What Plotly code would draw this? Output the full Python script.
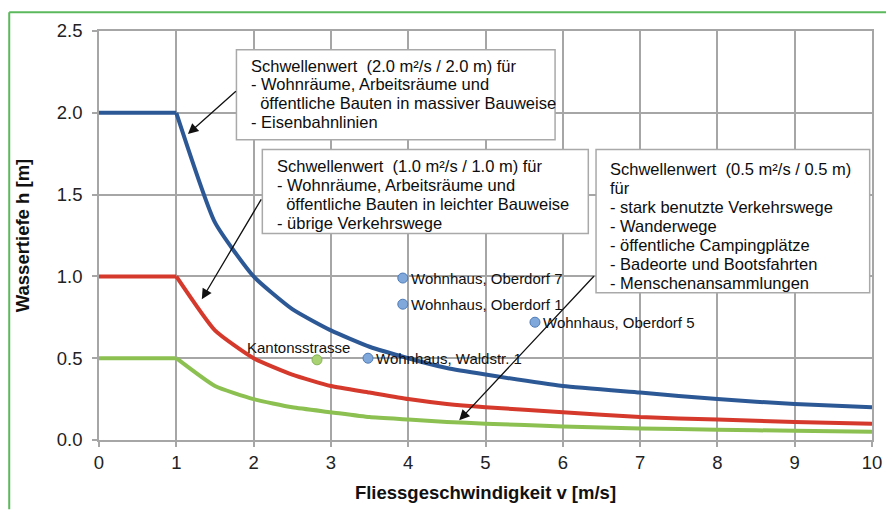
import plotly.graph_objects as go

# ---- data ----
v = [0, 1, 1.5, 2, 2.5, 3, 3.5, 4, 4.5, 5, 6, 7, 8, 9, 10]
h_blue = [2.0, 2.0, 1.33, 1.0, 0.8, 0.67, 0.57, 0.5, 0.44, 0.4, 0.33, 0.29, 0.25, 0.22, 0.2]
h_red = [1.0, 1.0, 0.67, 0.5, 0.4, 0.33, 0.29, 0.25, 0.22, 0.2, 0.17, 0.14, 0.125, 0.11, 0.1]
h_green = [0.5, 0.5, 0.33, 0.25, 0.2, 0.17, 0.14, 0.125, 0.11, 0.1, 0.083, 0.071, 0.063, 0.056, 0.05]

house_names = ["Wohnhaus, Oberdorf 7", "Wohnhaus, Oberdorf 1", "Wohnhaus, Oberdorf 5", "Wohnhaus, Waldstr. 1"]
house_v = [3.93, 3.93, 5.64, 3.48]
house_h = [0.99, 0.83, 0.72, 0.50]

road_names = ["Kantonsstrasse"]
road_v = [2.82]
road_h = [0.49]

box1_lines = ["Schwellenwert&nbsp; (2.0 m²/s / 2.0 m) für",
              "- Wohnräume, Arbeitsräume und",
              "&nbsp;&nbsp;öffentliche Bauten in massiver Bauweise",
              "- Eisenbahnlinien"]
box2_lines = ["Schwellenwert&nbsp; (1.0 m²/s / 1.0 m) für",
              "- Wohnräume, Arbeitsräume und",
              "&nbsp;&nbsp;öffentliche Bauten in leichter Bauweise",
              "- übrige Verkehrswege"]
box3_lines = ["Schwellenwert&nbsp; (0.5 m²/s / 0.5 m)",
              "für",
              "- stark benutzte Verkehrswege",
              "- Wanderwege",
              "- öffentliche Campingplätze",
              "- Badeorte und Bootsfahrten",
              "- Menschenansammlungen"]

x_ticks = [0, 1, 2, 3, 4, 5, 6, 7, 8, 9, 10]
y_ticks = [0.0, 0.5, 1.0, 1.5, 2.0, 2.5]

FONT = "Liberation Sans, Arial, sans-serif"
BLUE = "#2d5896"
RED = "#d5392b"
GREEN = "#8cc152"
GRID = "#a6a6a6"

fig = go.Figure()
for hv, col in [(h_green, GREEN), (h_red, RED), (h_blue, BLUE)]:
    # flat part up to v = 1, then smoothed decay
    fig.add_trace(go.Scatter(x=v[:2], y=hv[:2], mode="lines", line=dict(color=col, width=4), hoverinfo="skip"))
    fig.add_trace(go.Scatter(x=v[1:], y=hv[1:], mode="lines",
                             line=dict(color=col, width=4, shape="spline", smoothing=0.5), hoverinfo="skip"))
fig.add_trace(go.Scatter(x=house_v, y=house_h, mode="markers",
                         marker=dict(size=10, color="#80a8da", line=dict(color="#4d7bb8", width=1))))
fig.add_trace(go.Scatter(x=road_v, y=road_h, mode="markers",
                         marker=dict(size=10, color="#a9d273", line=dict(color="#86b556", width=1))))

annotations = []
for n, xv, yv in zip(house_names, house_v, house_h):
    annotations.append(dict(x=xv, y=yv, text=n, showarrow=False, xanchor="left", yanchor="middle",
                            xshift=6, font=dict(family=FONT, size=15, color="#111")))
for n, xv, yv in zip(road_names, road_v, road_h):
    annotations.append(dict(x=xv, y=yv, text=n, showarrow=False, xanchor="center", yanchor="bottom",
                            xshift=-18, yshift=2, font=dict(family=FONT, size=15, color="#111")))

shapes = []
boxes = [((1.778, 5.90, 1.836, 2.385), box1_lines, 1.96, 2.289),
         ((2.113, 6.33, 1.262, 1.775), box2_lines, 2.307, 1.673),
         ((6.43, 9.97, 0.90, 1.775), box3_lines, 6.61, 1.655)]
LINE_STEP = 19.2 / 165.6  # line spacing in data units
for (x0, x1, y0, y1), lines, tx, ty in boxes:
    shapes.append(dict(type="rect", xref="x", yref="y", x0=x0, x1=x1, y0=y0, y1=y1,
                       fillcolor="white", line=dict(color="#a9a9a9", width=1.5), layer="above"))
    for i, ln in enumerate(lines):
        annotations.append(dict(x=tx, y=ty - i * LINE_STEP, text=ln, showarrow=False,
                                xanchor="left", yanchor="middle", align="left", xshift=-2,
                                font=dict(family=FONT, size=16.5, color="#0d0d0d")))

# arrows from boxes to curves
arrows = [(1.79, 2.14, 1.15, 1.87), (2.11, 1.48, 1.33, 0.86), (6.42, 1.01, 4.66, 0.12)]
for ax_, ay_, x_, y_ in arrows:
    annotations.append(dict(x=x_, y=y_, ax=ax_, ay=ay_, xref="x", yref="y", axref="x", ayref="y",
                            text="", showarrow=True, arrowhead=2, arrowsize=1.6, arrowwidth=1.3,
                            arrowcolor="#111"))

# green outer frame: only left and top edges, kept inside the figure
fig_w, fig_h = 886, 504
ml, mr, mt, mb = 91, 20, 20, 70
pw, ph = fig_w - ml - mr, fig_h - mt - mb
fx0 = (1 - ml) / pw
fy_top = 1 + (mt - 1) / ph
fy_bot = -mb / ph
fx_right = 1 + mr / pw
shapes.append(dict(type="line", xref="paper", yref="paper", x0=fx0, x1=fx0, y0=fy_bot, y1=fy_top,
                   line=dict(color="#5cb85c", width=2), layer="below"))
shapes.append(dict(type="line", xref="paper", yref="paper", x0=fx0, x1=fx_right, y0=fy_top, y1=fy_top,
                   line=dict(color="#5cb85c", width=2), layer="below"))

fig.update_layout(
    width=fig_w, height=fig_h,
    margin=dict(l=ml, r=mr, t=mt, b=mb),
    paper_bgcolor="white", plot_bgcolor="white",
    showlegend=False,
    shapes=shapes, annotations=annotations,
    font=dict(family=FONT, color="#222"),
    xaxis=dict(range=[0, 10], tickvals=x_ticks, ticktext=[str(t) for t in x_ticks],
               showgrid=True, gridcolor=GRID, gridwidth=1.5, zeroline=False,
               showline=True, linecolor=GRID, linewidth=1.5, mirror=True,
               ticks="outside", ticklen=5, tickcolor=GRID, tickwidth=1.5,
               tickfont=dict(size=18.5, color="#222", family=FONT),
               title=dict(text="<b>Fliessgeschwindigkeit v [m/s]</b>", font=dict(size=18.5, color="#111", family=FONT),
                          standoff=14)),
    yaxis=dict(range=[0, 2.5], tickvals=y_ticks, ticktext=[f"{t:.1f}" for t in y_ticks],
               showgrid=True, gridcolor=GRID, gridwidth=1.5, zeroline=False,
               showline=True, linecolor=GRID, linewidth=1.5, mirror=True,
               ticks="outside", ticklen=5, tickcolor=GRID, tickwidth=1.5, ticklabelstandoff=6,
               tickfont=dict(size=18.5, color="#222", family=FONT),
               title=dict(text="<b>Wassertiefe h [m]</b>", font=dict(size=18.5, color="#111", family=FONT),
                          standoff=22)),
)

fig.write_html("out.html")
